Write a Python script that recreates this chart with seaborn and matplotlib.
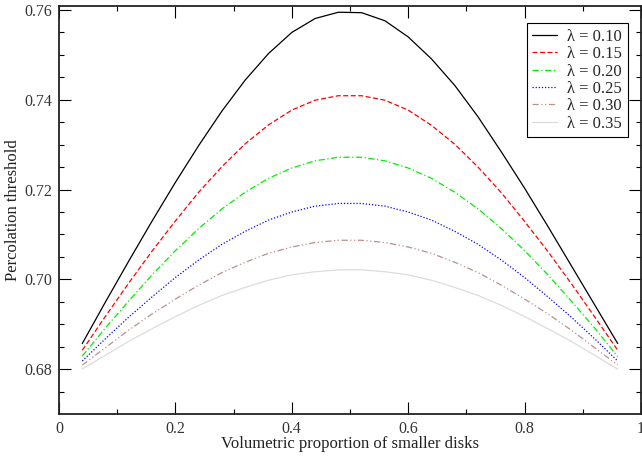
import pandas as pd
import seaborn as sns
import matplotlib.pyplot as plt

sns.set_theme(style='ticks')
plt.rcParams['font.family'] = ['Liberation Serif', 'DejaVu Serif']

# proportion of smaller disks
x = [0.04, 0.08, 0.12, 0.16, 0.20, 0.24, 0.28, 0.32, 0.36, 0.40, 0.44, 0.48,
     0.52, 0.56, 0.60, 0.64, 0.68, 0.72, 0.76, 0.80, 0.84, 0.88, 0.92, 0.96]

# percolation threshold
lam_010 = [0.6857, 0.6950, 0.7041, 0.7130, 0.7216, 0.7298, 0.7375, 0.7444, 0.7503, 0.7550, 0.7581, 0.7595,
           0.7594, 0.7576, 0.7540, 0.7491, 0.7432, 0.7362, 0.7284, 0.7203, 0.7118, 0.7031, 0.6944, 0.6857]
lam_015 = [0.6842, 0.6918, 0.6992, 0.7063, 0.7130, 0.7194, 0.7251, 0.7302, 0.7344, 0.7377, 0.7399, 0.7409,
           0.7409, 0.7399, 0.7377, 0.7343, 0.7301, 0.7250, 0.7193, 0.7129, 0.7062, 0.6991, 0.6917, 0.6842]
lam_020 = [0.6829, 0.6892, 0.6952, 0.7010, 0.7064, 0.7113, 0.7157, 0.7194, 0.7225, 0.7248, 0.7264, 0.7272,
           0.7272, 0.7264, 0.7248, 0.7225, 0.7194, 0.7157, 0.7113, 0.7064, 0.7010, 0.6952, 0.6892, 0.6828]
lam_025 = [0.6818, 0.6868, 0.6916, 0.6961, 0.7004, 0.7043, 0.7078, 0.7107, 0.7132, 0.7150, 0.7163, 0.7169,
           0.7169, 0.7163, 0.7150, 0.7132, 0.7107, 0.7078, 0.7043, 0.7004, 0.6961, 0.6916, 0.6868, 0.6818]
lam_030 = [0.6809, 0.6848, 0.6887, 0.6923, 0.6956, 0.6987, 0.7015, 0.7038, 0.7058, 0.7072, 0.7082, 0.7087,
           0.7087, 0.7082, 0.7072, 0.7058, 0.7038, 0.7015, 0.6987, 0.6956, 0.6923, 0.6887, 0.6848, 0.6809]
lam_035 = [0.6800, 0.6831, 0.6862, 0.6890, 0.6917, 0.6942, 0.6964, 0.6982, 0.6998, 0.7010, 0.7017, 0.7021,
           0.7021, 0.7017, 0.7010, 0.6998, 0.6982, 0.6964, 0.6942, 0.6917, 0.6890, 0.6862, 0.6831, 0.6800]

labels = ['λ = 0.10', 'λ = 0.15', 'λ = 0.20', 'λ = 0.25', 'λ = 0.30', 'λ = 0.35']
series = [lam_010, lam_015, lam_020, lam_025, lam_030, lam_035]
colors = ['black', 'red', '#00ee00', 'blue', '#bc8f8f', '#dcdcdc']
styles = ['-', (0, (4, 2)), (0, (5, 2, 1, 2)), (0, (1, 1.5)), (0, (5, 2, 1, 2, 1, 2)), '-']

fig = plt.figure(figsize=(6.42, 4.58), dpi=100)
ax = fig.add_axes([59 / 642, 44 / 458, 582 / 642, 408.5 / 458])

for vals, lab, c, ls in zip(series, labels, colors, styles):
    df = pd.DataFrame({'x': x, 'y': vals})
    sns.lineplot(data=df, x='x', y='y', ax=ax, color=c, linestyle=ls, linewidth=0.9, label=lab)

ax.set_xlim(0, 1)
ax.set_ylim(0.67, 0.761)
ax.set_xticks([0, 0.2, 0.4, 0.6, 0.8, 1.0])
ax.set_xticklabels(['0', '0.2', '0.4', '0.6', '0.8', '1'])
ax.set_xticks([0.1, 0.3, 0.5, 0.7, 0.9], minor=True)
ax.set_yticks([0.68, 0.70, 0.72, 0.74, 0.76])
ax.set_yticklabels(['0.68', '0.70', '0.72', '0.74', '0.76'])
ax.set_yticks([0.675, 0.685, 0.69, 0.695, 0.705, 0.71, 0.715, 0.725, 0.73, 0.735, 0.745, 0.75, 0.755], minor=True)
ax.tick_params(which='both', direction='in', top=True, right=True, width=0.8, colors='black',
               labelsize=11.5, labelcolor='#333333')
ax.tick_params(which='major', length=8.5, pad=5)
ax.tick_params(which='minor', length=3.8)
for sp in ax.spines.values():
    sp.set_linewidth(1.3)
    sp.set_color('#222222')

ax.set_xlabel('Volumetric proportion of smaller disks', fontsize=12, labelpad=-1, color='#222222')
ax.set_ylabel('Percolation threshold', fontsize=12, labelpad=2.5, color='#222222')

leg = ax.legend(loc='upper right', bbox_to_anchor=(0.978, 0.957), fancybox=False, framealpha=1,
                edgecolor='black', fontsize=12, handlelength=1.5, handletextpad=0.6,
                labelspacing=0.08, borderpad=0.35, borderaxespad=0)
leg.get_frame().set_linewidth(0.8)

plt.savefig('out.png', dpi=100)
